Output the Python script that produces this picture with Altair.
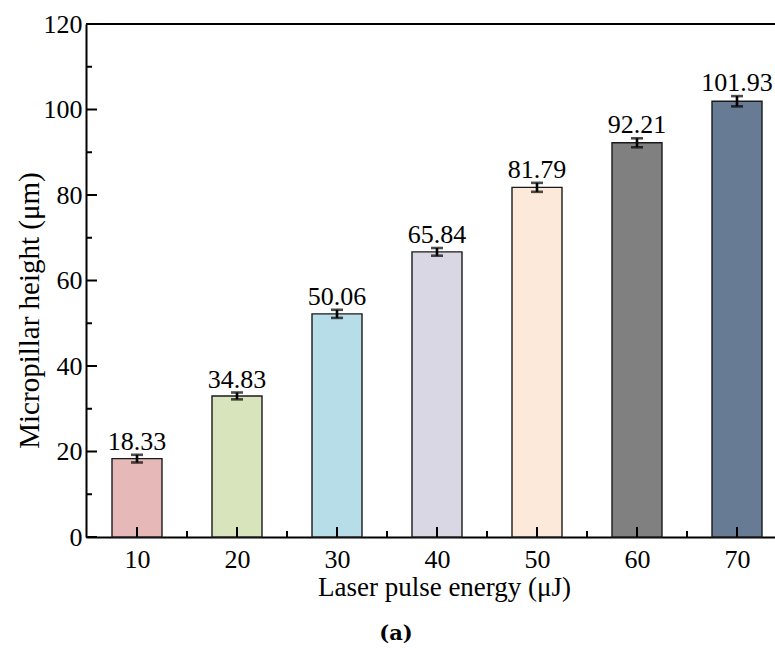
import altair as alt
import pandas as pd

energy = [10, 20, 30, 40, 50, 60, 70]
heights = [18.33, 33.0, 52.2, 66.7, 81.79, 92.21, 101.93]
labels = ["18.33", "34.83", "50.06", "65.84", "81.79", "92.21", "101.93"]
errors = [0.9, 0.8, 0.95, 0.9, 1.05, 1.05, 1.2]
colors = ["#E6B8B7", "#D8E4BC", "#B7DDE8", "#DAD7E5", "#FDE9D9", "#808080", "#677B95"]

y_major = [0, 20, 40, 60, 80, 100, 120]
y_minor = [10, 30, 50, 70, 90, 110]
x_minor = [15, 25, 35, 45, 55, 65]

FONT = "Liberation Serif"
W, H = 689, 513
XT = "Laser pulse energy (μJ)"
YT = "Micropillar height (μm)"

df = pd.DataFrame({"energy": energy, "height": heights, "label": labels, "err": errors})
df["lo"] = df["height"] - df["err"]
df["hi"] = df["height"] + df["err"]

xs = alt.Scale(domain=[4.9, 73.8], nice=False, zero=False, padding=0)
ys = alt.Scale(domain=[0, 120], nice=False, padding=0)


def X(f):
    return alt.X(f, scale=xs, title=XT)


def Y(f):
    return alt.Y(f, scale=ys, title=YT)


base = alt.Chart(df)

bars = base.mark_bar(size=50, stroke="#1a1a1a", strokeWidth=1.4).encode(
    x=alt.X("energy:Q", scale=xs, title=XT, axis=alt.Axis(
        values=energy, labelPadding=9, titleFontSize=27,
        titleX=358, titleY=50, titleBaseline="middle")),
    y=alt.Y("height:Q", scale=ys, title=YT, axis=alt.Axis(
        values=y_major, labelPadding=4, titleFontSize=29,
        titleAngle=270, titleX=-57, titleY=286, titleAlign="center",
        titleBaseline="middle")),
    color=alt.Color("energy:N", scale=alt.Scale(domain=energy, range=colors), legend=None),
)

err = base.mark_rule(color="black", strokeWidth=2.6).encode(
    x=X("energy:Q"), y=Y("lo:Q"), y2="hi:Q",
)
cap_lo = base.mark_tick(color="black", thickness=2.6, size=12, orient="horizontal").encode(
    x=X("energy:Q"), y=Y("lo:Q"),
)
cap_hi = base.mark_tick(color="black", thickness=2.6, size=12, orient="horizontal").encode(
    x=X("energy:Q"), y=Y("hi:Q"),
)
text = base.mark_text(font=FONT, fontSize=26, baseline="alphabetic", dy=-5, color="black").encode(
    x=X("energy:Q"), y=Y("hi:Q"), text="label:N",
)

ymaj = alt.Chart(pd.DataFrame({"v": y_major})).mark_rule(color="black", strokeWidth=2).encode(
    y=Y("v:Q"), x=alt.value(0), x2=alt.value(11))
ymin = alt.Chart(pd.DataFrame({"v": y_minor})).mark_rule(color="black", strokeWidth=2).encode(
    y=Y("v:Q"), x=alt.value(0), x2=alt.value(6))
xmaj = alt.Chart(pd.DataFrame({"v": energy})).mark_rule(color="black", strokeWidth=2).encode(
    x=X("v:Q"), y=alt.value(H), y2=alt.value(H - 10))
xmin = alt.Chart(pd.DataFrame({"v": x_minor})).mark_rule(color="black", strokeWidth=2).encode(
    x=X("v:Q"), y=alt.value(H), y2=alt.value(H - 6))
top = alt.Chart(pd.DataFrame({"v": [120]})).mark_rule(color="black", strokeWidth=2).encode(
    y=Y("v:Q"), x=alt.value(0), x2=alt.value(W))
caption = alt.Chart(pd.DataFrame({"t": ["(a)"]})).mark_text(
    font="DejaVu Serif", fontSize=21, fontWeight="bold", color="black", baseline="middle").encode(
    text="t:N", x=alt.value(310), y=alt.value(610))

chart = alt.layer(bars, err, cap_lo, cap_hi, text, ymaj, ymin, xmaj, xmin, top, caption).properties(
    width=W, height=H,
    autosize=alt.AutoSizeParams(type="none"),
    padding={"left": 86, "top": 24, "right": 0, "bottom": 111},
).configure_view(stroke=None).configure_axis(
    domainColor="black", domainWidth=2, ticks=False, tickSize=0, grid=False,
    labelFont=FONT, labelFontSize=26, labelColor="black",
    titleFont=FONT, titleColor="black", titleFontWeight="normal",
)

chart.save("out.html", embed_options={"renderer": "svg", "actions": False})
